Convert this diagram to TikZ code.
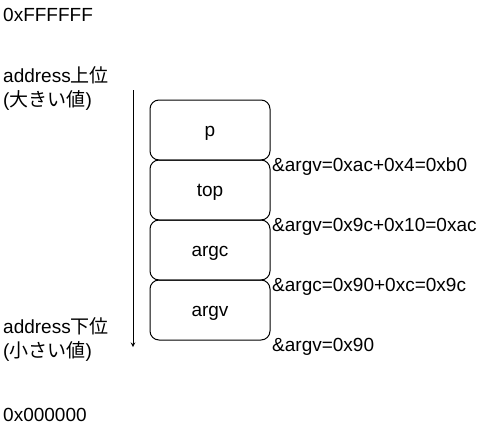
\documentclass[tikz,border=0pt]{standalone}
\usepackage{fontspec}
\setmainfont{Liberation Sans}
\newfontfamily\jpfont{Noto Sans CJK JP}
\usetikzlibrary{positioning, arrows}

\begin{document}
\begin{tikzpicture}[x=1pt, y=-1pt, node distance=0pt, font=\fontsize{19}{24}\selectfont]

% Define styles
\tikzstyle{cell} = [rectangle, rounded corners=9pt, minimum width=120pt, minimum height=60pt, text centered, text height=17pt, text depth=4pt, draw=black, line width=1pt, inner sep=0pt, outer sep=0pt]
\tikzstyle{addr} = [anchor=base west, inner sep=0pt]
\tikzstyle{arrow} = [line width=1pt,->,>=stealth]

\useasboundingbox (0,0) rectangle (501,426);

% Address range on the left
\node[addr] (maxaddr) at (3,21) {0xFFFFFF};
\node[addr, anchor=west, align=left] (upper) at (3,89) {address{\jpfont 上位}\\({\jpfont 大きい値})};
\node[addr, anchor=west, align=left] (lower) at (3,340) {address{\jpfont 下位}\\({\jpfont 小さい値})};
\node[addr] (minaddr) at (3,421) {0x000000};

% Direction of the addresses
\coordinate (arrtop) at (133,90);
\coordinate (arrbot) at (133,347);
\draw[arrow] (arrtop) -- (arrbot);

% Stack cells
\node[cell] (p) at (210,130) {p};
\node[cell, below=of p] (top) {top};
\node[cell, below=of top] (argc) {argc};
\node[cell, below=of argc] (argv) {argv};

% Addresses of the cells
\node[addr] (ptop) at (272,171) {\&argv=0xac+0x4=0xb0};
\node[addr] (toptop) at (272,231) {\&argv=0x9c+0x10=0xac};
\node[addr] (argctop) at (272,291) {\&argc=0x90+0xc=0x9c};
\node[addr] (argvtop) at (272,351) {\&argv=0x90};

\end{tikzpicture}
\end{document}
